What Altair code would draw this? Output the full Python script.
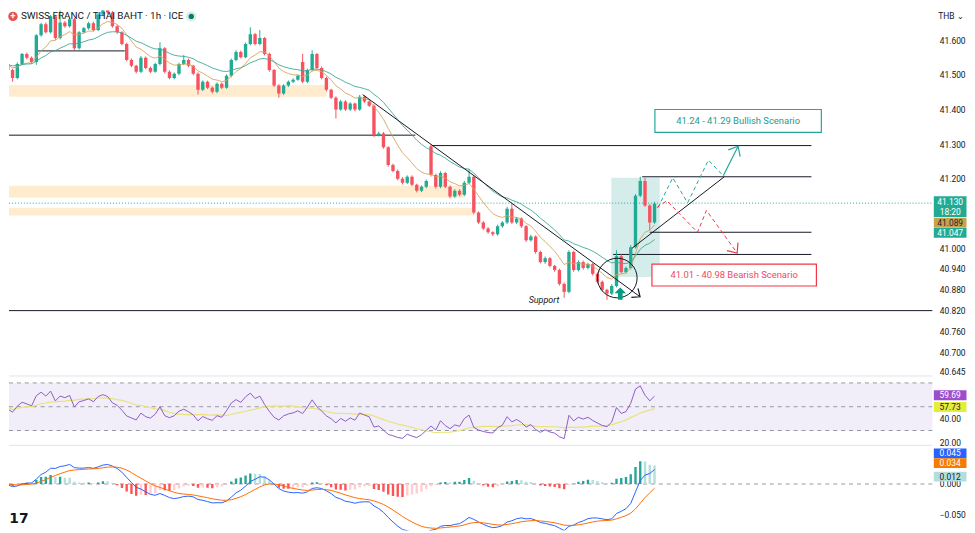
import altair as alt
import pandas as pd
import numpy as np

# ---------------- data ----------------
close = [
    41.531, 41.514, 41.491, 41.531, 41.560, 41.549, 41.537, 41.614, 41.646, 41.623,
    41.669, 41.606, 41.651, 41.640, 41.660, 41.577, 41.623, 41.634, 41.649, 41.629,
    41.674, 41.691, 41.680, 41.640, 41.623, 41.589, 41.543, 41.526, 41.509, 41.549,
    41.520, 41.509, 41.531, 41.577, 41.509, 41.491, 41.503, 41.531, 41.543, 41.526,
    41.503, 41.457, 41.480, 41.463, 41.451, 41.474, 41.463, 41.497, 41.543, 41.566,
    41.551, 41.589, 41.617, 41.589, 41.606, 41.560, 41.514, 41.469, 41.446, 41.469,
    41.480, 41.486, 41.497, 41.480, 41.514, 41.560, 41.520, 41.491, 41.457, 41.434,
    41.400, 41.423, 41.400, 41.417, 41.400, 41.437, 41.423, 41.411, 41.326, 41.331,
    41.291, 41.240, 41.223, 41.200, 41.189, 41.206, 41.183, 41.166, 41.177, 41.194,
    41.211, 41.177, 41.217, 41.177, 41.149, 41.166, 41.154, 41.189, 41.206, 41.103,
    41.074, 41.057, 41.046, 41.040, 41.063, 41.074, 41.114, 41.074, 41.086, 41.063,
    41.023, 41.034, 40.989, 40.960, 40.971, 40.949, 40.937, 40.897, 40.874, 40.989,
    40.937, 40.960, 40.943, 40.954, 40.926, 40.903, 40.880, 40.869, 40.891, 40.977,
    40.931, 40.943, 41.003, 41.151, 41.194, 41.123, 41.074, 41.129,
]
first_open = 41.520
gap_open_idx = [63, 90]
gap_open_val = [41.537, 41.294]
# wick lengths in thousandths of a baht
up_wick = [
    4, 3, 4, 5, 3, 4, 4, 3, 4, 5,
    4, 4, 49, 4, 5, 4, 3, 4, 4, 4,
    4, 9, 3, 4, 4, 3, 4, 4, 3, 5,
    4, 4, 4, 17, 3, 4, 4, 4, 14, 4,
    3, 4, 4, 3, 4, 4, 4, 4, 4, 5,
    4, 4, 20, 4, 23, 3, 4, 3, 4, 4,
    4, 4, 4, 23, 4, 11, 3, 4, 4, 3,
    4, 5, 4, 4, 3, 5, 4, 3, 4, 5,
    4, 3, 4, 4, 5, 4, 4, 3, 4, 4,
    6, 4, 5, 3, 4, 4, 4, 5, 23, 4,
    3, 4, 4, 3, 5, 4, 5, 15, 4, 3,
    4, 5, 3, 4, 5, 4, 3, 4, 4, 5,
    4, 5, 4, 4, 3, 4, 4, 3, 5, 17,
    5, 4, 6, 5, 12, 9, 4, 5,
]
lo_wick = [
    4, 4, 11, 4, 3, 4, 5, 8, 4, 4,
    4, 5, 4, 4, 4, 6, 4, 3, 4, 4,
    3, 4, 4, 4, 5, 4, 4, 4, 5, 4,
    4, 4, 3, 4, 5, 4, 4, 4, 3, 4,
    4, 14, 4, 4, 5, 4, 4, 3, 4, 4,
    4, 3, 4, 4, 4, 4, 5, 4, 12, 4,
    4, 4, 3, 4, 4, 4, 4, 4, 5, 4,
    26, 4, 4, 4, 5, 4, 4, 4, 5, 4,
    4, 5, 4, 4, 5, 4, 4, 5, 4, 4,
    4, 5, 4, 4, 5, 4, 4, 4, 4, 5,
    4, 5, 4, 5, 4, 4, 4, 4, 4, 5,
    5, 4, 5, 4, 5, 4, 5, 5, 17, 4,
    5, 4, 5, 4, 5, 5, 4, 18, 4, 4,
    4, 4, 4, 4, 4, 4, 23, 4,
]

main_ticks = [41.6, 41.5, 41.4, 41.3, 41.2, 41.0, 40.94, 40.88, 40.82, 40.76, 40.70, 40.645]
rsi_ticks = [40, 20]
macd_ticks = [0.0, -0.05]

# horizontal levels (price, from candle, to candle)
level_price = [41.326, 41.296, 41.206, 41.046, 40.982, 40.820, 41.569]
level_from = [-2, 90.2, 134.4, 136.0, 128.3, -2, 7.3]
level_to = [86.7, 170.0, 170.0, 170.0, 170.0, 200.0, 25.6]

zone_from = [-2, -2, -2]
zone_to = [68, 97, 99]
zone_hi = [41.471, 41.180, 41.117]
zone_lo = [41.437, 41.146, 41.094]

trend_seg = ["down", "down", "up", "up"]
trend_x = [75.63, 133.96, 132.29, 151.67]
trend_p = [41.443, 40.860, 41.000, 41.206]

bull_x = [137.71, 140.83, 143.96, 148.33, 151.46]
bull_p = [41.117, 41.203, 41.131, 41.254, 41.209]
bull_end_x = [151.46, 154.58]
bull_end_p = [41.209, 41.294]
bear_x = [137.5, 139.58, 146.04, 147.92, 154.38]
bear_p = [41.117, 41.137, 41.046, 41.109, 40.986]

breakout_rect = [127.9, 138.1, 41.203, 40.917]   # from, to, top, bottom
circle_pt = [129.17, 40.914]
up_arrow_pt = [129.8, 40.869]

bull_box = [137.08, 172.08, 41.400, 41.334]
bear_box = [136.46, 171.04, 40.954, 40.891]
bull_label = ["41.24 - 41.29 Bullish Scenario", 154.58, 41.366]
bear_label = ["41.01 - 40.98 Bearish Scenario", 153.75, 40.923]
support_label = ["Support", 113.75, 40.851]

last_price = 41.130
last_time = "18:20"
ema_tags = [41.089, 41.047]
rsi_tags = [59.69, 57.73]
macd_tags = [0.045, 0.034, 0.012]

title_text = "SWISS FRANC / THAI BAHT · 1h · ICE"

# ---------------- frame building ----------------
n = len(close)
opens = [first_open] + close[:-1]
for k, v in zip(gap_open_idx, gap_open_val):
    opens[k] = v
high = [max(o, c) + u / 1000 for o, c, u in zip(opens, close, up_wick)]
low = [min(o, c) - d / 1000 for o, c, d in zip(opens, close, lo_wick)]

UP, DN = "#22ab94", "#f7525f"
df = pd.DataFrame({"i": np.arange(n), "open": opens, "close": close, "high": high, "low": low})
df["cc"] = np.where(df["close"] >= df["open"], UP, DN)

s = pd.Series(close)
df["ema_f"] = s.ewm(span=9, adjust=False).mean()
df["ema_s"] = s.ewm(span=21, adjust=False).mean()

d = s.diff().fillna(0).to_numpy()
g = np.clip(d, 0, None)
l = np.clip(-d, 0, None)
seed = np.abs(d[1:15]).mean() / 2
ag, al = seed, seed
rsi = []
for k in range(n):
    if k > 0:
        ag = (ag * 13 + g[k]) / 14
        al = (al * 13 + l[k]) / 14
    rsi.append(100 - 100 / (1 + ag / al))
df["rsi"] = rsi
df["rsi_ma"] = pd.Series(rsi).rolling(14, min_periods=1).mean()

macd = s.ewm(span=12, adjust=False).mean() - s.ewm(span=26, adjust=False).mean()
sig = macd.ewm(span=9, adjust=False).mean()
hist = macd - sig
prev = hist.shift(1).fillna(0)
df["macd"] = macd
df["sig"] = sig
df["hist"] = hist
df["zero"] = 0.0
df["hc"] = np.select(
    [(hist >= 0) & (hist >= prev), (hist >= 0) & (hist < prev), (hist < 0) & (hist < prev)],
    ["#26a69a", "#b2dfdb", "#ff5252"], default="#ffcdd2")

# ---------------- layout constants ----------------
W = 932
H_MAIN, H_RSI, H_MACD = 369, 70, 86
X_DOM = [1.25, 195.42]
P_DOM = [40.6314, 41.6857]
R_DOM = [17.5, 75.83]
M_DOM = [-0.0758, 0.0629]
FONT = "Roboto"
INK = "#131722"
TAG_X = 950

xs = alt.Scale(domain=X_DOM, nice=False, zero=False)
SC = {
    "p": alt.Scale(domain=P_DOM, nice=False, zero=False),
    "r": alt.Scale(domain=R_DOM, nice=False, zero=False),
    "m": alt.Scale(domain=M_DOM, nice=False, zero=False),
}


def axis_right(vals, fmt):
    return alt.Axis(orient="right", values=vals, format=fmt, domain=False, ticks=False,
                    grid=False, labelPadding=7, labelFont=FONT, labelFontSize=8.5,
                    labelColor=INK, labelBound=False, labelOverlap=False, title=None)


AX = {"p": axis_right(main_ticks, ".3f"), "r": axis_right(rsi_ticks, ".2f"),
      "m": axis_right(macd_ticks, ".3f")}


def xq(f):
    return alt.X(f"{f}:Q", scale=xs, axis=None, title=None)


def yq(f, key):
    return alt.Y(f"{f}:Q", scale=SC[key], axis=AX[key], title=None)


def tag(value, key, label, bg, fg, shift=0.0, h=10, extra=None):
    tdf = pd.DataFrame({"v": [value], "t": [label]})
    box = alt.Chart(tdf).mark_tick(orient="horizontal", size=33, thickness=h, color=bg,
                                   opacity=1, yOffset=shift).encode(
        x=alt.value(TAG_X), y=yq("v", key))
    txt_dy = shift if extra is None else shift - 4.5
    txt = alt.Chart(tdf).mark_text(font=FONT, fontSize=8.5, color=fg, align="center",
                                   baseline="middle", dy=txt_dy).encode(
        x=alt.value(TAG_X), y=yq("v", key), text="t:N")
    layers = [box, txt]
    if extra is not None:
        edf = pd.DataFrame({"v": [value], "t": [extra]})
        layers.append(alt.Chart(edf).mark_text(font=FONT, fontSize=8.5, color=fg, align="center",
                                               baseline="middle", dy=shift + 5).encode(
            x=alt.value(TAG_X), y=yq("v", key), text="t:N"))
    return layers


# ---------------- main panel ----------------
zone_df = pd.DataFrame({"x1": zone_from, "x2": zone_to, "hi": zone_hi, "lo": zone_lo})
zones = alt.Chart(zone_df).mark_rect(color="#ffe0b2", opacity=0.65, clip=True).encode(
    x=xq("x1"), x2="x2:Q", y=yq("hi", "p"), y2="lo:Q")

br_df = pd.DataFrame({"x1": [breakout_rect[0]], "x2": [breakout_rect[1]],
                      "hi": [breakout_rect[2]], "lo": [breakout_rect[3]]})
brect = alt.Chart(br_df).mark_rect(color="#26a69a", opacity=0.2).encode(
    x=xq("x1"), x2="x2:Q", y=yq("hi", "p"), y2="lo:Q")

cur_df = pd.DataFrame({"p": [last_price]})
cur_line = alt.Chart(cur_df).mark_rule(color="#22ab94", strokeDash=[1, 2], strokeWidth=1).encode(
    x=alt.value(0), x2=alt.value(W), y=yq("p", "p"))

wicks = alt.Chart(df).mark_rule(strokeWidth=1, clip=True).encode(
    x=xq("i"), y=yq("low", "p"), y2="high:Q", color=alt.Color("cc:N", scale=None))
bodies = alt.Chart(df).mark_rule(strokeWidth=3.4, clip=True, strokeCap="butt").encode(
    x=xq("i"), y=yq("open", "p"), y2="close:Q", color=alt.Color("cc:N", scale=None))

ema_f_line = alt.Chart(df).mark_line(color="#d3a55e", strokeWidth=1, clip=True, opacity=0.9).encode(
    x=xq("i"), y=yq("ema_f", "p"))
ema_s_line = alt.Chart(df).mark_line(color="#3fa796", strokeWidth=1, clip=True, opacity=0.9).encode(
    x=xq("i"), y=yq("ema_s", "p"))

lev_df = pd.DataFrame({"x1": level_from, "x2": level_to, "p": level_price})
levels = alt.Chart(lev_df).mark_rule(color=INK, strokeWidth=1, clip=True).encode(
    x=xq("x1"), x2="x2:Q", y=yq("p", "p"))

tr_df = pd.DataFrame({"seg": trend_seg, "x": trend_x, "p": trend_p})
trends = alt.Chart(tr_df).mark_line(color=INK, strokeWidth=1).encode(
    x=xq("x"), y=yq("p", "p"), detail="seg:N")

bull_df = pd.DataFrame({"x": bull_x, "p": bull_p, "o": range(len(bull_x))})
bull_line = alt.Chart(bull_df).mark_line(color="#26a69a", strokeWidth=1, strokeDash=[4, 3]).encode(
    x=xq("x"), y=yq("p", "p"), order="o:Q")
bull_end_df = pd.DataFrame({"x": bull_end_x, "p": bull_end_p})
bull_end = alt.Chart(bull_end_df).mark_line(color="#26a69a", strokeWidth=1.2).encode(
    x=xq("x"), y=yq("p", "p"))
bear_df = pd.DataFrame({"x": bear_x, "p": bear_p, "o": range(len(bear_x))})
bear_line = alt.Chart(bear_df).mark_line(color="#f23645", strokeWidth=1, strokeDash=[4, 3]).encode(
    x=xq("x"), y=yq("p", "p"), order="o:Q")

CHEV = "M-1,-0.85L0,0L-1,0.85"
UPARROW = "M0,-1L0.95,-0.05L0.38,-0.05L0.38,1L-0.38,1L-0.38,-0.05L-0.95,-0.05Z"


def head(x, p, ang, color, size):
    hdf = pd.DataFrame({"x": [x], "p": [p]})
    return alt.Chart(hdf).mark_point(shape=CHEV, filled=False, size=size, angle=ang, color=color,
                                     strokeWidth=1.2, opacity=1).encode(x=xq("x"), y=yq("p", "p"))


heads = [
    head(trend_x[1], trend_p[1], 36, INK, 180),
    head(bull_end_x[1], bull_end_p[1], 299.5, "#26a69a", 260),
    head(bear_x[-1], bear_p[-1], 54, "#f23645", 260),
]

circ_df = pd.DataFrame({"x": [circle_pt[0]], "p": [circle_pt[1]]})
circle = alt.Chart(circ_df).mark_point(shape="circle", size=1600, filled=False, color=INK,
                                       strokeWidth=1, opacity=1).encode(x=xq("x"), y=yq("p", "p"))
ua_df = pd.DataFrame({"x": [up_arrow_pt[0]], "p": [up_arrow_pt[1]]})
up_arrow = alt.Chart(ua_df).mark_point(shape=UPARROW, size=150, filled=True, color="#089981",
                                       opacity=1).encode(x=xq("x"), y=yq("p", "p"))

box_df = pd.DataFrame({"x1": [bull_box[0], bear_box[0]], "x2": [bull_box[1], bear_box[1]],
                       "hi": [bull_box[2], bear_box[2]], "lo": [bull_box[3], bear_box[3]],
                       "c": ["#26a69a", "#f23645"]})
boxes = alt.Chart(box_df).mark_rect(fill="white", strokeWidth=1.2).encode(
    x=xq("x1"), x2="x2:Q", y=yq("hi", "p"), y2="lo:Q", stroke=alt.Color("c:N", scale=None))

lab_df = pd.DataFrame({"t": [bull_label[0], bear_label[0]], "x": [bull_label[1], bear_label[1]],
                       "p": [bull_label[2], bear_label[2]], "c": ["#1f9a8c", "#ee4a5c"]})
labels = alt.Chart(lab_df).mark_text(font=FONT, fontSize=9.5, align="center", baseline="middle").encode(
    x=xq("x"), y=yq("p", "p"), text="t:N", color=alt.Color("c:N", scale=None))
sup_df = pd.DataFrame({"t": [support_label[0]], "x": [support_label[1]], "p": [support_label[2]]})
support = alt.Chart(sup_df).mark_text(font=FONT, fontSize=9, fontStyle="italic", color=INK,
                                      align="center", baseline="middle").encode(
    x=xq("x"), y=yq("p", "p"), text="t:N")

one = pd.DataFrame({"t": [title_text]})
title = alt.Chart(one).mark_text(font=FONT, fontSize=10, color=INK, align="left", baseline="middle").encode(
    x=alt.value(12), y=alt.value(6), text="t:N")
icon = alt.Chart(one).mark_point(shape="circle", size=90, filled=True, color="#e5534b", opacity=1).encode(
    x=alt.value(4), y=alt.value(6))
icon_x = alt.Chart(pd.DataFrame({"t": ["+"]})).mark_text(font=FONT, fontSize=9, fontWeight="bold",
                                                          color="white", align="center", baseline="middle").encode(
    x=alt.value(4), y=alt.value(6), text="t:N")
ring = alt.Chart(one).mark_point(shape="circle", size=110, filled=True, color="#d6efe9", opacity=1).encode(
    x=alt.value(184), y=alt.value(6))
dot = alt.Chart(one).mark_point(shape="circle", size=28, filled=True, color="#0b7a66", opacity=1).encode(
    x=alt.value(184), y=alt.value(6))
thb = alt.Chart(pd.DataFrame({"t": ["THB ⌄"]})).mark_text(font=FONT, fontSize=8.5, color=INK,
                                                           align="left", baseline="middle").encode(
    x=alt.value(938), y=alt.value(6), text="t:N")

main_tags = (tag(last_price, "p", f"{last_price:.3f}", "#22ab94", "white", shift=3.5, h=21, extra=last_time)
             + tag(ema_tags[0], "p", f"{ema_tags[0]:.3f}", "#c9a24e", "#1e222d", shift=5.5)
             + tag(ema_tags[1], "p", f"{ema_tags[1]:.3f}", "#22ab94", "white", shift=1.0))

main = alt.layer(
    zones, brect, cur_line, levels, wicks, bodies, ema_f_line, ema_s_line, trends,
    bull_line, bull_end, bear_line, *heads, circle, up_arrow, boxes, labels, support,
    title, icon, icon_x, ring, dot, thb, *main_tags
).properties(width=W, height=H_MAIN)

# ---------------- RSI panel ----------------
band_df = pd.DataFrame({"hi": [70], "lo": [30]})
rsi_band = alt.Chart(band_df).mark_rect(color="#7e57c2", opacity=0.1).encode(
    x=alt.value(0), x2=alt.value(W), y=yq("hi", "r"), y2="lo:Q")
rl_df = pd.DataFrame({"v": [70, 50, 30]})
rsi_rules = alt.Chart(rl_df).mark_rule(color="#9598a1", strokeDash=[4, 4], strokeWidth=1).encode(
    x=alt.value(0), x2=alt.value(W), y=yq("v", "r"))
rsi_ma_line = alt.Chart(df).mark_line(color="#e9e27a", strokeWidth=1.2, clip=True).encode(
    x=xq("i"), y=yq("rsi_ma", "r"))
rsi_line = alt.Chart(df).mark_line(color="#8e5cc4", strokeWidth=1, clip=True).encode(
    x=xq("i"), y=yq("rsi", "r"))
sep1 = alt.Chart(one).mark_rule(color="#e0e3eb", strokeWidth=1).encode(
    x=alt.value(0), x2=alt.value(W), y=alt.value(0))
rsi_tag_layers = (tag(rsi_tags[0], "r", f"{rsi_tags[0]:.2f}", "#9c4dcc", "white")
                  + tag(rsi_tags[1], "r", f"{rsi_tags[1]:.2f}", "#e3ee3b", "#1e222d", shift=9.6))
rsi_panel = alt.layer(rsi_band, rsi_rules, rsi_ma_line, rsi_line, sep1, *rsi_tag_layers).properties(
    width=W, height=H_RSI)

# ---------------- MACD panel ----------------
zl_df = pd.DataFrame({"v": [0.0]})
zero_line = alt.Chart(zl_df).mark_rule(color="#9598a1", strokeDash=[4, 4], strokeWidth=1).encode(
    x=alt.value(0), x2=alt.value(W), y=yq("v", "m"))
hist_bars = alt.Chart(df).mark_rule(strokeWidth=2.4, clip=True, strokeCap="butt").encode(
    x=xq("i"), y=yq("zero", "m"), y2="hist:Q", color=alt.Color("hc:N", scale=None))
macd_line = alt.Chart(df).mark_line(color="#2962ff", strokeWidth=1, clip=True).encode(
    x=xq("i"), y=yq("macd", "m"))
sig_line = alt.Chart(df).mark_line(color="#ff6d00", strokeWidth=1, clip=True).encode(
    x=xq("i"), y=yq("sig", "m"))
sep2 = alt.Chart(one).mark_rule(color="#e0e3eb", strokeWidth=1).encode(
    x=alt.value(0), x2=alt.value(W), y=alt.value(0))
logo = alt.Chart(pd.DataFrame({"t": ["17"]})).mark_text(font="DejaVu Sans", fontSize=14, fontWeight=900,
                                                         color=INK, align="center", baseline="middle").encode(
    x=alt.value(10), y=alt.value(74), text="t:N")
macd_tag_layers = (tag(macd_tags[0], "m", f"{macd_tags[0]:.3f}", "#2962ff", "white", shift=-3)
                   + tag(macd_tags[1], "m", f"{macd_tags[1]:.3f}", "#f57c00", "white")
                   + tag(macd_tags[2], "m", f"{macd_tags[2]:.3f}", "#b2dfdb", "#1e222d"))
macd_panel = alt.layer(zero_line, hist_bars, macd_line, sig_line, sep2, logo, *macd_tag_layers).properties(
    width=W, height=H_MACD)

chart = alt.vconcat(main, rsi_panel, macd_panel, spacing=0, bounds="flush").properties(
    padding={"left": 0, "top": 0, "right": 0, "bottom": 0}, background="white"
).configure_view(stroke=None).configure_axis(grid=False)

chart.save("out.html", embed_options={"renderer": "svg", "actions": False})
